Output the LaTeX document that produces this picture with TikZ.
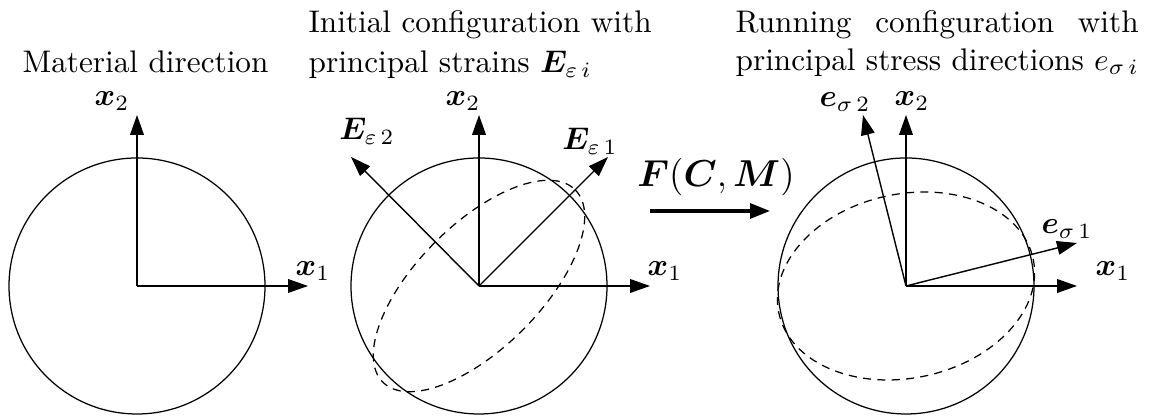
\documentclass[tikz,border=0pt]{standalone}
\usepackage{bm}
\usetikzlibrary{arrows.meta}
\newlength\runw
\begin{document}
\begin{tikzpicture}[x=0.32pt,y=-0.32pt,
  ax/.style={-{Triangle[length=6.4pt,width=4.4pt]}, line width=0.45pt},
  circ/.style={line width=0.4pt},
  dsh/.style={line width=0.4pt, dash pattern=on 2.6pt off 2pt},
  lbl/.style={inner sep=0pt},
  ttl/.style={inner sep=0pt, anchor=north west, align=left},
  bigarrow/.style={-{Triangle[length=6.4pt,width=4.8pt]}, line width=1pt}]
\useasboundingbox (0,0) rectangle (1161,417);
% ---------- titles
\node[ttl] (t1) at (22,50) {Material direction};
\node[ttl] (t2) at (308,10) {Initial configuration with\\[0.8pt]principal strains $\bm{E}_{\varepsilon\,i}$};
\node[ttl] (t3) at (735,10) {\settowidth{\runw}{principal stress directions $e_{\sigma\,i}$}%
  \parbox[t]{\runw}{Running configuration with\linebreak principal stress directions $e_{\sigma\,i}$}};
% ---------- panel 1
\coordinate (o1) at (137,286);
\coordinate (p1x1) at (308,286);
\coordinate (p1x2) at (137,115);
\draw[circ] (o1) circle[radius=128];
\draw[ax] (o1) -- (p1x1);
\draw[ax] (o1) -- (p1x2);
\node[lbl] (l1x1) at (313,271) {$\bm{x}_1$};
\node[lbl] (l1x2) at (112,101) {$\bm{x}_2$};
% ---------- panel 2
\coordinate (o2) at (479,286);
\coordinate (p2x1) at (650,286);
\coordinate (p2x2) at (479,115);
\coordinate (p2e1) at (608,157);
\coordinate (p2e2) at (351,157);
\draw[circ] (o2) circle[radius=128];
\draw[dsh, rotate around={45:(o2)}] (o2) ellipse[x radius=136, y radius=62];
\draw[ax] (o2) -- (p2x1);
\draw[ax] (o2) -- (p2x2);
\draw[ax] (o2) -- (p2e1);
\draw[ax] (o2) -- (p2e2);
\node[lbl] (l2x1) at (665,271) {$\bm{x}_1$};
\node[lbl] (l2x2) at (463,101) {$\bm{x}_2$};
\node[lbl] (l2e1) at (590,141) {$\bm{E}_{\varepsilon\,1}$};
\node[lbl] (l2e2) at (367,131) {$\bm{E}_{\varepsilon\,2}$};
% ---------- transformation arrow
\coordinate (fa) at (650,211);
\coordinate (fb) at (770,211);
\draw[bigarrow] (fa) -- (fb);
\node[lbl] (lf) at (716,177) {\large $\bm{F}(\bm{C},\bm{M})$};
% ---------- panel 3
\coordinate (o3) at (906,286);
\coordinate (p3x1) at (1077,286);
\coordinate (p3x2) at (906,115);
\coordinate (p3e1) at (1077,243);
\coordinate (p3e2) at (863,115);
\draw[circ] (o3) circle[radius=128];
\draw[dsh, rotate around={12:(o3)}] (o3) ellipse[x radius=130, y radius=92];
\draw[ax] (o3) -- (p3x1);
\draw[ax] (o3) -- (p3x2);
\draw[ax] (o3) -- (p3e1);
\draw[ax] (o3) -- (p3e2);
\node[lbl] (l3x1) at (1113,271) {$\bm{x}_1$};
\node[lbl] (l3x2) at (912,101) {$\bm{x}_2$};
\node[lbl] (l3e1) at (1067,229) {$\bm{e}_{\sigma\,1}$};
\node[lbl] (l3e2) at (845,102) {$\bm{e}_{\sigma\,2}$};
\end{tikzpicture}
\end{document}
